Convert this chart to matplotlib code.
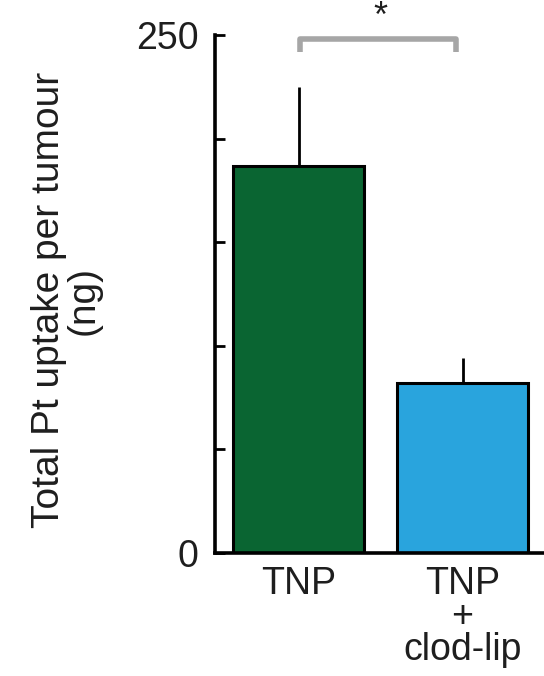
import matplotlib
matplotlib.use("Agg")
import matplotlib.pyplot as plt

groups = ["TNP", "TNP\n+\nclod-lip"]
uptake = [187, 82]
err_up = [38, 12]
colors = ["#0a6532", "#29a4dd"]
y_ticks = [0, 50, 100, 150, 200, 250]
y_ticklabels = ["0", "", "", "", "", "250"]

plt.rcParams["font.family"] = ["Liberation Sans", "DejaVu Sans"]

fig = plt.figure(figsize=(5.44, 6.76), dpi=100)
ax = fig.add_axes([215 / 544, 123 / 676, 1 - 215 / 544 + 0.01, 518 / 676])

x = list(range(len(groups)))
ax.bar(x, uptake, width=0.8, color=colors, edgecolor="black", linewidth=2.2, zorder=2)
ax.errorbar(x, uptake, yerr=[[0, 0], err_up], fmt="none", ecolor="black",
            elinewidth=2, capsize=0, zorder=1)

ax.set_ylim(0, 250)
ax.set_xlim(-0.51, 1.53)
ax.set_yticks(y_ticks)
ax.set_yticklabels(y_ticklabels)
ax.set_xticks(x)
ax.set_xticklabels(groups, linespacing=0.9)
ax.tick_params(axis="y", direction="in", length=7, width=2, labelsize=27, pad=12,
               labelcolor="#1e1e1e")
ax.tick_params(axis="x", length=0, labelsize=27, pad=9, labelcolor="#1e1e1e")

for s in ["top", "right"]:
    ax.spines[s].set_visible(False)
for s in ["left", "bottom"]:
    ax.spines[s].set_linewidth(2.6)

fig.text(66 / 544, 1 - 300 / 676, "Total Pt uptake per tumour\n(ng)", rotation=90,
         ha="center", va="center", multialignment="center", fontsize=28,
         color="#1e1e1e", linespacing=0.95)

# significance bracket
ax.plot([0.01, 0.01, 0.96, 0.96], [242, 248, 248, 242], color="#a6a6a6",
        lw=4, solid_capstyle="butt", clip_on=False)
ax.text(0.50, 250, "*", ha="center", va="bottom", fontsize=26, color="#1e1e1e")

fig.savefig("out.png", dpi=100)
